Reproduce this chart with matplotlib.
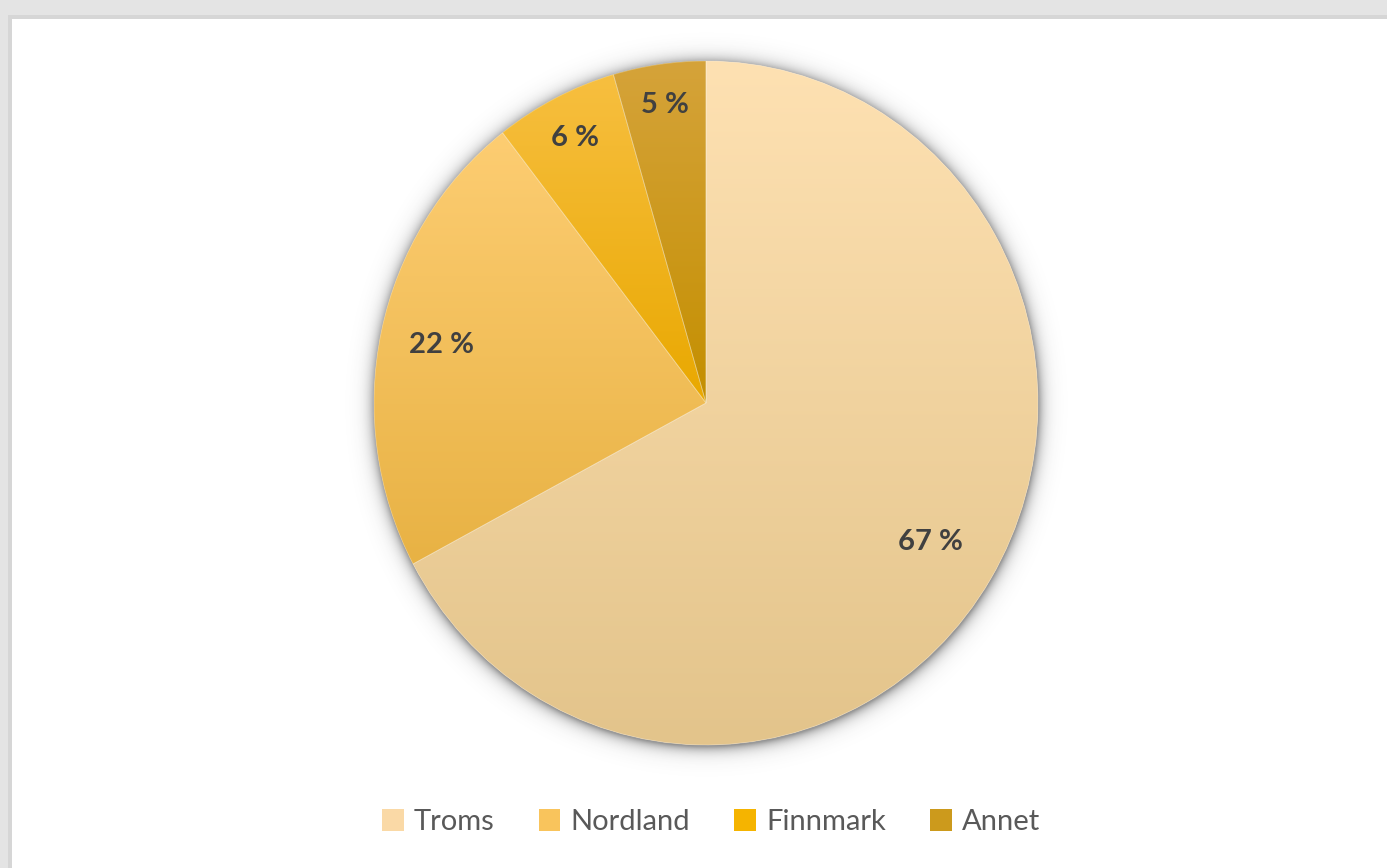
import numpy as np
import matplotlib
matplotlib.use('Agg')
import matplotlib.pyplot as plt
import matplotlib.patches as mpatches
from matplotlib.colors import LinearSegmentedColormap

plt.rcParams['font.family'] = ['Lato', 'DejaVu Sans']

# data
regions = ['Troms', 'Nordland', 'Finnmark', 'Annet']
shares = [67.2, 22.3, 6.0, 4.5]
labels = ['67 %', '22 %', '6 %', '5 %']
# gradient colours, top -> bottom
top_colors = ['#fee1b2', '#fdcd72', '#f7bf40', '#d5a33a']
bottom_colors = ['#e3c48b', '#e8b244', '#e9a800', '#c48f00']
legend_colors = ['#fad9a6', '#f9c45c', '#f5b400', '#cc9a1c']
label_dist = [0.79, 0.815, 0.87, 0.88]

fig = plt.figure(figsize=(13.87, 8.68), dpi=100)
fig.patch.set_facecolor('#e4e4e4')

# white chart panel with light border
fig.patches.append(mpatches.Rectangle((8 / 1387, 0), 1 - 8 / 1387, 1 - 15 / 868,
                                      transform=fig.transFigure, facecolor='#d6d6d6',
                                      edgecolor='none', zorder=-2))
fig.patches.append(mpatches.Rectangle((12 / 1387, 0), 1 - 12 / 1387, 1 - 19 / 868,
                                      transform=fig.transFigure, facecolor='white',
                                      edgecolor='none', zorder=-1))

# pie axes (pie is slightly taller than wide in the reference)
W, H = 1387, 868
cx, cy, rx, ry = 706, 403, 332, 342
pad = 1.1
ax = fig.add_axes([(cx - rx * pad) / W, (H - cy - ry * pad) / H,
                   2 * rx * pad / W, 2 * ry * pad / H])
ax.set_zorder(2)
ax.axis('off')
ax.patch.set_alpha(0)

# soft shadow around the pie
g = np.linspace(-pad, pad, 600)
X, Y = np.meshgrid(g, g)
R = np.sqrt(X ** 2 + (Y + 0.006) ** 2)
sh = np.clip(np.exp(-(R - 1.0) / 0.018), 0, 1) * 0.55
sh[R < 1.0] = 0.55
rgba = np.zeros((600, 600, 4))
rgba[..., :3] = 0.25
rgba[..., 3] = sh
ax.imshow(rgba, extent=(-pad, pad, -pad, pad), origin='lower', zorder=1,
          interpolation='bilinear')

wedges, _ = ax.pie(shares, startangle=90, counterclock=False, radius=1,
                   colors=legend_colors,
                   wedgeprops=dict(edgecolor='none', linewidth=0))

for i, w in enumerate(wedges):
    w.set_zorder(2)
    ext = w.get_path().get_extents()
    cmap = LinearSegmentedColormap.from_list('g%d' % i, [bottom_colors[i], top_colors[i]])
    grad = np.linspace(0, 1, 256).reshape(-1, 1)
    im = ax.imshow(grad, cmap=cmap, extent=(ext.x0, ext.x1, ext.y0, ext.y1),
                   origin='lower', aspect='auto', zorder=3, interpolation='bilinear')
    im.set_clip_path(w)
    # label
    mid = np.deg2rad((w.theta1 + w.theta2) / 2)
    d = label_dist[i]
    ax.text(d * np.cos(mid), d * np.sin(mid), labels[i], ha='center', va='center',
            fontsize=21, fontweight='bold', color='#404040', zorder=5)

for w in wedges:
    edge = mpatches.Wedge(w.center, w.r, w.theta1, w.theta2, facecolor='none',
                          edgecolor=(1, 1, 1, 0.3), linewidth=0.6, zorder=4)
    ax.add_patch(edge)
ax.set_xlim(-pad, pad)
ax.set_ylim(-pad, pad)
ax.set_aspect('auto')

handles = [mpatches.Patch(facecolor=c, edgecolor='none', label=r)
           for c, r in zip(legend_colors, regions)]
leg = fig.legend(handles=handles, loc='center', bbox_to_anchor=(711 / W, 1 - 822 / H),
                 ncol=4, frameon=False, fontsize=21, handlelength=0.75, handleheight=0.75,
                 handletextpad=0.35, columnspacing=1.5, labelcolor='#595959')

fig.savefig('out.png', dpi=100, facecolor=fig.get_facecolor())
